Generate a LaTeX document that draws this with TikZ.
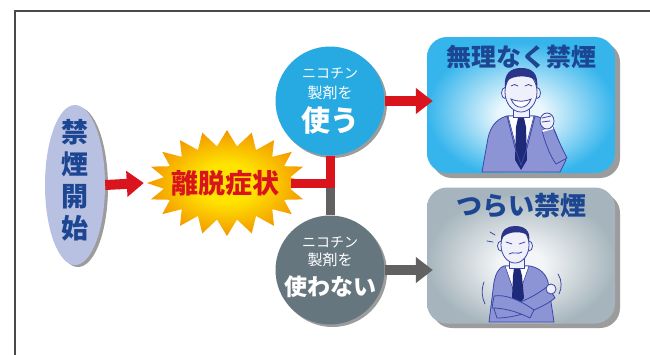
\documentclass[tikz,border=0pt]{standalone}
\usepackage{fontspec}
\newfontfamily\jp{Noto Sans CJK JP}
\usetikzlibrary{arrows.meta,shapes.geometric,calc}

\definecolor{cRed}{HTML}{D9141C}
\definecolor{cBlue}{HTML}{27A9E1}
\definecolor{cSlate}{HTML}{66767F}
\definecolor{cArrowGray}{HTML}{616161}
\definecolor{cShadow}{HTML}{9C9C9C}
\definecolor{cLav}{HTML}{B9C1E3}
\definecolor{cTitle}{HTML}{1C4592}
\definecolor{cFrame}{HTML}{4A4A4A}
\definecolor{cBurstIn}{HTML}{FFE400}
\definecolor{cBurstOut}{HTML}{F39800}
\definecolor{cSkyIn}{HTML}{EAF7FD}
\definecolor{cSkyOut}{HTML}{36B5EC}
\definecolor{cFogIn}{HTML}{F3F5F6}
\definecolor{cFogOut}{HTML}{A6B5BD}
\definecolor{cSuit}{HTML}{8C94D6}
\definecolor{cInk}{HTML}{3A48A6}
\definecolor{cHair}{HTML}{2A358A}
\definecolor{cTie}{HTML}{1E2A78}
\definecolor{cSkin}{HTML}{F0F0FA}

\pgfdeclareradialshading{burstshade}{\pgfpoint{0bp}{0bp}}{%
  color(0bp)=(cBurstIn); color(9bp)=(cBurstIn); color(25bp)=(cBurstOut); color(50bp)=(cBurstOut)}
\pgfdeclareradialshading{skyshade}{\pgfpoint{0bp}{-4bp}}{%
  color(0bp)=(cSkyIn); color(6bp)=(cSkyIn); color(25bp)=(cSkyOut); color(50bp)=(cSkyOut)}
\pgfdeclareradialshading{fogshade}{\pgfpoint{0bp}{-4bp}}{%
  color(0bp)=(cFogIn); color(6bp)=(cFogIn); color(25bp)=(cFogOut); color(50bp)=(cFogOut)}

\tikzset{
  jptext/.style={font=\jp\bfseries, inner sep=0pt},
  redline/.style={draw=cRed, line width=9pt},
  grayline/.style={draw=cArrowGray, line width=9pt},
  redarrow/.style={draw=cRed, line width=10pt, -{Triangle[length=17pt,width=25pt]}},
  grayarrow/.style={draw=cArrowGray, line width=10pt, -{Triangle[length=17pt,width=25pt]}},
  choice/.style={circle, minimum size=109pt, inner sep=0pt},
  resultbox/.style={rounded corners=20pt, minimum width=188pt, minimum height=136pt, inner sep=0pt},
  suit/.style={fill=cSuit, draw=cInk, line width=0.8pt, line join=round},
  skin/.style={fill=cSkin, draw=cInk, line width=0.8pt},
  inkline/.style={draw=cInk, line width=0.8pt, line cap=round},
}

\begin{document}
\begin{tikzpicture}[x=1pt, y=-1pt]
\useasboundingbox (0,0) rectangle (650,354);
\clip (0,0) rectangle (650,354);
\fill[white] (0,0) rectangle (650,354);

% outer frame (only the top and left edges fall inside the page)
\draw[cFrame, line width=1.5pt] (15,11) rectangle (700,400);

% ---- result boxes with drop shadows ----
\fill[cShadow, rounded corners=20pt] (432,42) rectangle (620,178);
\node[resultbox, shading=skyshade] (easy) at (521,105) {};
\fill[cShadow, rounded corners=20pt] (432,193) rectangle (620,328);
\node[resultbox, shading=fogshade] (hard) at (521,255.5) {};

\node[jptext, text=cTitle, font=\jp\bfseries\fontsize{25}{25}\selectfont] (easyT) at (521,57) {無理なく禁煙};
\node[jptext, text=cTitle, font=\jp\bfseries\fontsize{26}{26}\selectfont] (hardT) at (521,206) {つらい禁煙};

% ---- smiling man in the upper box ----
\path[suit] (482,172) -- (488,138) .. controls (491,124) and (499,118) .. (507,116)
  -- (535,116) .. controls (545,118) and (552,124) .. (556,134) -- (566,160) -- (560,172) -- cycle;
\fill[white, draw=cInk, line width=0.6pt] (508,116) -- (534,116) -- (521,165) -- cycle;
\fill[cTie] (518,118) -- (524,118) -- (526,127) -- (527,160) -- (521,170) -- (515,160) -- (516,127) -- cycle;
\draw[inkline] (507,116) -- (515,148) -- (521,165);
\draw[inkline] (535,116) -- (527,148) -- (521,165);
% raised forearm with clenched fist
\path[suit] (542,130) .. controls (544,140) and (550,156) .. (556,164)
  -- (567,158) .. controls (562,148) and (557,138) .. (553,127) -- cycle;
\draw[white, line width=2pt] (542.5,131) -- (553,128);
\path[skin] (547,121) ellipse (7 and 8);
\draw[inkline] (542,118) -- (551,116);
\draw[inkline] (542,122) -- (550,121);
\path[skin] (513,104) rectangle (529,117);
\path[skin] (505,93) ellipse (3.5 and 5.5);
\path[skin] (537,93) ellipse (3.5 and 5.5);
\path[skin] (521,92) ellipse (16 and 20);
\fill[cHair] (505,89) .. controls (503,72) and (512,68) .. (521,68)
  .. controls (531,68) and (539,72) .. (537,89) -- (535,80)
  .. controls (529,75) and (513,75) .. (507,81) -- cycle;
\draw[inkline] (511,86) .. controls (513,84) and (516,84) .. (518,86);
\draw[inkline] (525,86) .. controls (527,84) and (530,84) .. (532,86);
\path[fill=white, draw=cInk, line width=0.8pt] (511,99) .. controls (515,110) and (527,110) .. (531,99) .. controls (524,102) and (518,102) .. (511,99) -- cycle;

% ---- troubled man in the lower box ----
\path[suit] (489,322) -- (494,282) .. controls (496,272) and (500,267) .. (504,266)
  -- (530,266) .. controls (540,268) and (546,274) .. (548,282) -- (554,322) -- cycle;
\fill[white, draw=cInk, line width=0.6pt] (505,266) -- (529,266) -- (517,300) -- cycle;
\fill[cTie] (514,268) -- (520,268) -- (522,276) -- (524,298) -- (518,306) -- (512,298) -- (513,276) -- cycle;
% folded arms
\path[suit] (493,306) .. controls (510,308) and (530,300) .. (548,286)
  -- (555,298) .. controls (540,310) and (515,318) .. (497,318) -- cycle;
\path[suit] (494,296) .. controls (505,294) and (520,300) .. (534,310)
  -- (530,318) .. controls (518,312) and (505,308) .. (492,308) -- cycle;
\path[skin] (551,289) ellipse (5 and 5);
\path[skin] (509,256) rectangle (524,268);
\path[skin] (501,246) ellipse (3.5 and 5);
\path[skin] (529,246) ellipse (3.5 and 5);
\path[skin] (515,245) ellipse (14 and 18);
\fill[cHair] (501,242) .. controls (500,229) and (508,226) .. (515,226)
  .. controls (524,226) and (531,230) .. (529,242) -- (527,235)
  .. controls (522,231) and (509,231) .. (503,237) -- cycle;
\draw[inkline] (506,242) -- (512,244);
\draw[inkline] (519,244) -- (525,242);
\draw[inkline] (509,254) .. controls (513,251) and (518,255) .. (522,252);
\draw[inkline] (490,232) -- (495,235);
\draw[inkline] (487,241) -- (493,242);
\draw[inkline] (484,282) .. controls (481,290) and (482,298) .. (485,304);
\draw[inkline] (558,274) .. controls (562,280) and (562,288) .. (559,294);

% ---- start oval ----
\fill[cShadow] (78,187) ellipse (30 and 80);
\node[ellipse, fill=cLav, minimum width=60pt, minimum height=160pt, inner sep=0pt] (start) at (75,185) {};
\node[jptext, text=cTitle, align=center, font=\jp\bfseries\fontsize{27}{32}\selectfont] (startT) at (75,180) {禁\\煙\\開\\始};

% ---- withdrawal starburst ----
\begin{scope}[shift={(227,183)}]
  \path[shading=burstshade] (0:80 and 53)
    \foreach \k in {0,...,19} { -- ({\k*18}:80 and 53) -- ({(\k+0.5)*18}:64 and 37) } -- cycle;
\end{scope}
\node[jptext, text=cRed, minimum width=156pt, minimum height=100pt, font=\jp\bfseries\fontsize{27}{27}\selectfont] (burst) at (225,183) {離脱症状};

% ---- choice circles ----
\fill[cShadow] (332.5,103.5) circle (54.5);
\node[choice, fill=cBlue] (use) at (330,101) {};
\fill[cShadow] (332.5,272.5) circle (54.5);
\node[choice, fill=cSlate] (nouse) at (330,270) {};

\node[jptext, text=white, font=\jp\fontsize{14}{14}\selectfont] (useA) at (330,73) {ニコチン};
\node[jptext, text=white, font=\jp\fontsize{15}{15}\selectfont] (useB) at (330,93) {製剤を};
\node[jptext, text=white, font=\jp\bfseries\fontsize{29}{29}\selectfont] (useC) at (330,120) {使う};
\node[jptext, text=white, font=\jp\fontsize{14}{14}\selectfont] (nouseA) at (330,242) {ニコチン};
\node[jptext, text=white, font=\jp\fontsize{15}{15}\selectfont] (nouseB) at (330,260) {製剤を};
\node[jptext, text=white, font=\jp\bfseries\fontsize{23}{23}\selectfont] (nouseC) at (330,287) {使わない};

% ---- connectors ----
\coordinate (split) at (use.south |- burst.east);
\draw[grayline] (split) -- (nouse.north);
\draw[redline] ([xshift=-12pt]burst.east) -- ([xshift=4.5pt]split) ;
\draw[redline] (split) -- (use.south);
\draw[redarrow] (start.east) -- ([xshift=-3pt]burst.west);
\draw[redarrow] (use.east) -- ([xshift=6pt]easy.west |- use.east);
\draw[grayarrow] (nouse.east) -- ([xshift=6pt]hard.west |- nouse.east);
\end{tikzpicture}
\end{document}
